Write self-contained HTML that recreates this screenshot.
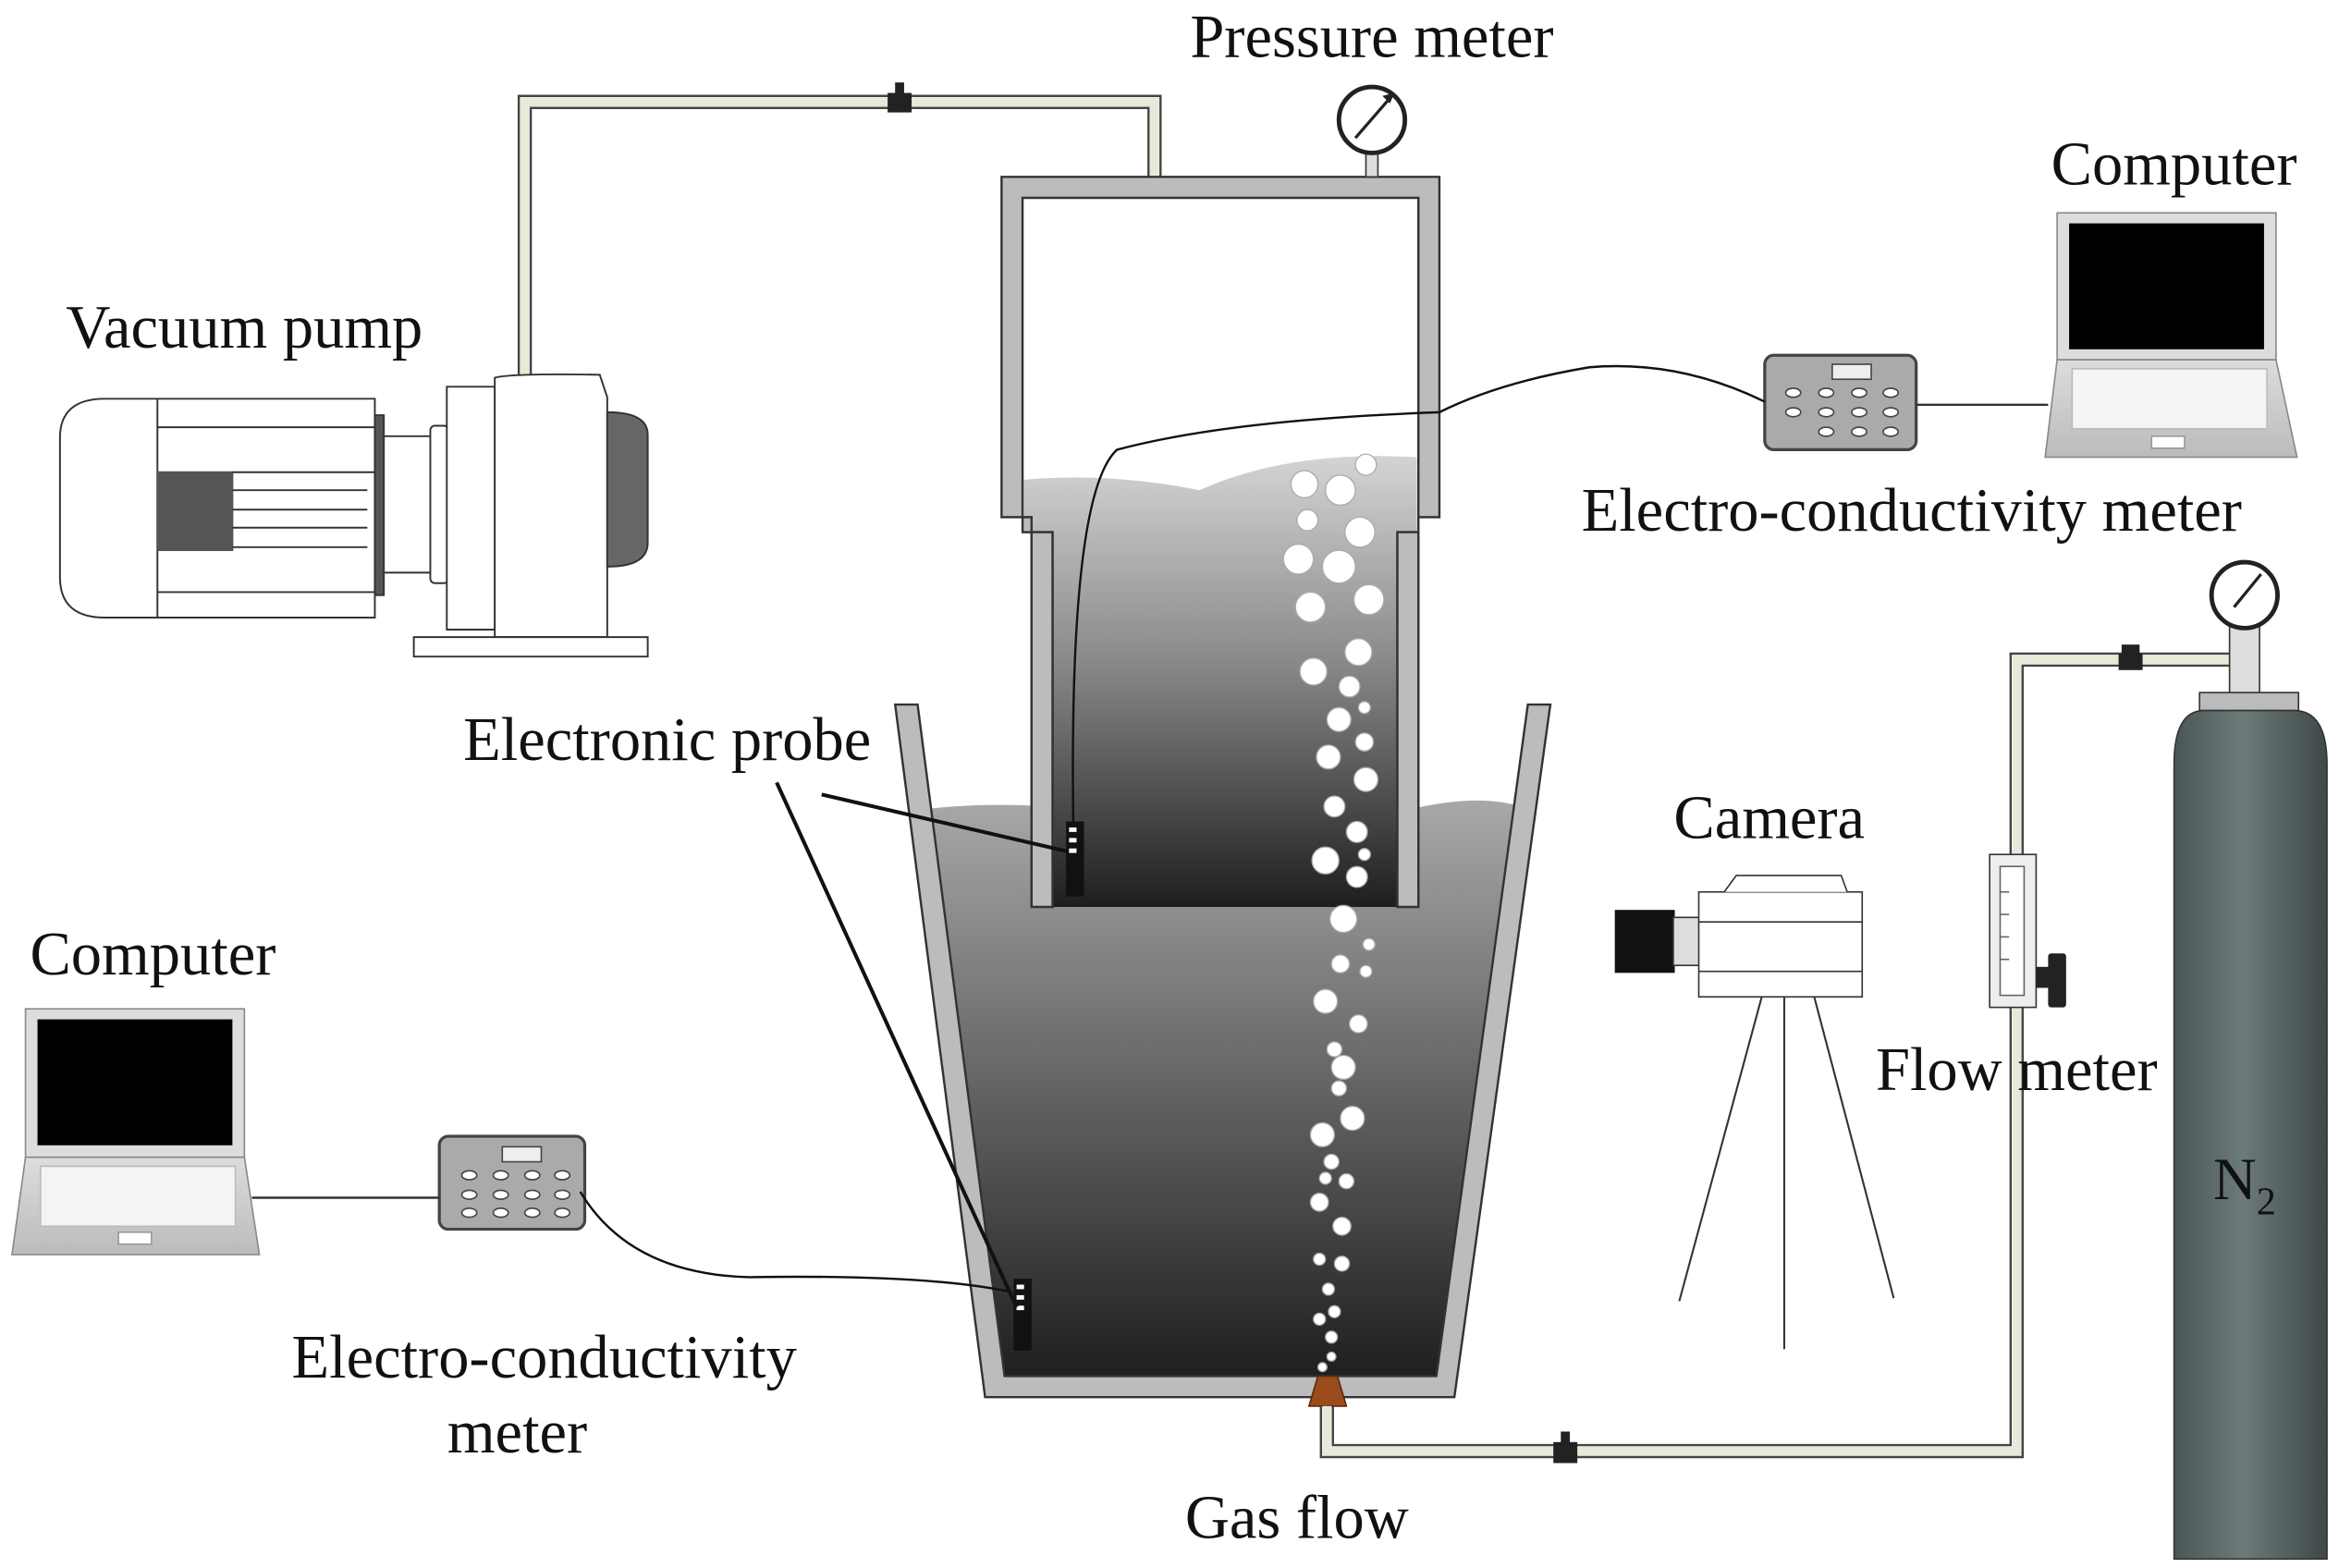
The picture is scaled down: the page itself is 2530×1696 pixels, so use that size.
<!DOCTYPE html>
<html><head><meta charset="utf-8"><style>
html,body{margin:0;padding:0;background:#fff}
svg{display:block}
text{font-family:"Liberation Serif",serif;fill:#111}
</style></head><body>
<svg width="2530" height="1696" viewBox="0 0 1560 1046" preserveAspectRatio="none" xmlns="http://www.w3.org/2000/svg">
<defs>
<linearGradient id="liq" x1="0" y1="0" x2="0" y2="1">
<stop offset="0" stop-color="#d4d4d4"/><stop offset="0.45" stop-color="#8a8a8a"/><stop offset="1" stop-color="#1e1e1e"/>
</linearGradient>
<linearGradient id="liq2" x1="0" y1="0" x2="0" y2="1">
<stop offset="0" stop-color="#a8a8a8"/><stop offset="1" stop-color="#1e1e1e"/>
</linearGradient>
<linearGradient id="cyl" x1="0" y1="0" x2="1" y2="0">
<stop offset="0" stop-color="#4a5656"/><stop offset="0.45" stop-color="#6d7a7a"/><stop offset="1" stop-color="#3e4848"/>
</linearGradient>
<linearGradient id="scr" x1="0" y1="0" x2="0" y2="1">
<stop offset="0" stop-color="#ddd"/><stop offset="1" stop-color="#bbb"/>
</linearGradient>
</defs>

<path d="M346 252 V64 H774 V118 M354 252 V72 H766 V118" fill="none" stroke="#444" stroke-width="1.5"/>
<path d="M350 252 V68 H770 V118" fill="none" stroke="#e9e9d9" stroke-width="6"/>
<rect x="592" y="62" width="16" height="13" fill="#222"/><rect x="597" y="55" width="6" height="8" fill="#222"/>

<g stroke="#333" stroke-width="1.2" fill="#fff">
<path d="M70 266 H250 V412 H70 Q40 412 40 385 V292 Q40 266 70 266 Z"/>
<line x1="105" y1="266" x2="105" y2="412"/>
<line x1="105" y1="285" x2="250" y2="285"/>
<line x1="105" y1="395" x2="250" y2="395"/>
<rect x="105" y="315" width="50" height="52" fill="#555" stroke="#555"/>
<line x1="155" y1="315" x2="250" y2="315"/><line x1="155" y1="327" x2="245" y2="327"/><line x1="155" y1="340" x2="245" y2="340"/><line x1="155" y1="352" x2="245" y2="352"/><line x1="155" y1="365" x2="245" y2="365"/>
<rect x="250" y="277" width="6" height="120" fill="#555"/>
<line x1="256" y1="291" x2="290" y2="291"/><line x1="256" y1="382" x2="290" y2="382"/>
<rect x="287" y="284" width="12" height="105" rx="3"/>
<path d="M298 258 H330 V420 H298 Z"/>
<path d="M330 252 Q340 249 400 250 L405 265 V425 H330 Z"/>
<path d="M405 275 Q432 275 432 290 V362 Q432 378 405 378 Z" fill="#666"/>
<path d="M276 425 H432 V438 H276 Z"/>
</g>

<path d="M615 540 Q680 532 760 545 Q860 555 940 540 Q990 528 1020 540 L970 920 H662 Z" fill="url(#liq2)"/>
<path d="M597 470 L612 470 L670 918 L958 918 L1019 470 L1034 470 L970 932 L657 932 Z" fill="#bcbcbc" stroke="#333" stroke-width="1.5"/>

<path d="M683 320 Q740 315 800 327 Q860 300 945 305 L945 355 L932 355 L932 605 L702 605 L702 355 L683 355 Z" fill="url(#liq)"/>
<path d="M668 118 H960 V345 H946 V605 H932 V355 H946 V132 H682 V355 H702 V605 H688 V345 H668 Z" fill="#bcbcbc" stroke="#333" stroke-width="1.5"/>
<rect x="688" y="355" width="14" height="250" fill="#bcbcbc" stroke="#333" stroke-width="1.5"/>
<rect x="932" y="355" width="14" height="250" fill="#bcbcbc" stroke="#333" stroke-width="1.5"/>

<rect x="911" y="100" width="8" height="18" fill="#ddd" stroke="#333"/>
<circle cx="915" cy="80" r="22" fill="#fff" stroke="#222" stroke-width="3"/>
<line x1="904" y1="92" x2="930" y2="62" stroke="#222" stroke-width="2"/>
<path d="M930 62 l-8 2 l5 5z" fill="#222"/>

<g fill="#fff" stroke="#aaa" stroke-width="0.8">
<circle cx="870" cy="323" r="9"/><circle cx="894" cy="327" r="10"/><circle cx="911" cy="310" r="7"/>
<circle cx="872" cy="347" r="7"/><circle cx="907" cy="355" r="10"/><circle cx="866" cy="373" r="10"/><circle cx="893" cy="378" r="11"/>
<circle cx="913" cy="400" r="10"/><circle cx="874" cy="405" r="10"/><circle cx="906" cy="435" r="9"/><circle cx="876" cy="448" r="9"/>
<circle cx="900" cy="458" r="7"/><circle cx="910" cy="472" r="4"/><circle cx="893" cy="480" r="8"/><circle cx="910" cy="495" r="6"/>
<circle cx="886" cy="505" r="8"/><circle cx="911" cy="520" r="8"/><circle cx="890" cy="538" r="7"/><circle cx="905" cy="555" r="7"/>
<circle cx="910" cy="570" r="4"/><circle cx="884" cy="574" r="9"/><circle cx="905" cy="585" r="7"/><circle cx="896" cy="613" r="9"/>
<circle cx="913" cy="630" r="4"/><circle cx="894" cy="643" r="6"/><circle cx="911" cy="648" r="4"/><circle cx="884" cy="668" r="8"/>
<circle cx="906" cy="683" r="6"/><circle cx="890" cy="700" r="5"/><circle cx="896" cy="712" r="8"/><circle cx="893" cy="726" r="5"/>
<circle cx="902" cy="746" r="8"/><circle cx="882" cy="757" r="8"/><circle cx="888" cy="775" r="5"/><circle cx="884" cy="786" r="4"/>
<circle cx="898" cy="788" r="5"/><circle cx="880" cy="802" r="6"/><circle cx="895" cy="818" r="6"/><circle cx="880" cy="840" r="4"/>
<circle cx="895" cy="843" r="5"/><circle cx="886" cy="860" r="4"/><circle cx="890" cy="875" r="4"/><circle cx="880" cy="880" r="4"/>
<circle cx="888" cy="892" r="4"/><circle cx="888" cy="905" r="3"/><circle cx="882" cy="912" r="3"/>
</g>

<path d="M879 918 H892 L898 938 H873 Z" fill="#9a4c1c" stroke="#5a2a0a"/>

<path d="M881 938 V972 H1349 V444 H1500 M889 938 V964 H1341 V436 H1500" fill="none" stroke="#444" stroke-width="1.5"/>
<path d="M885 938 V968 H1345 V440 H1500" fill="none" stroke="#e9e9d9" stroke-width="6"/>
<rect x="1036" y="962" width="16" height="14" fill="#222"/><rect x="1041" y="955" width="6" height="8" fill="#222"/>
<rect x="1413" y="436" width="16" height="11" fill="#222"/><rect x="1415" y="430" width="12" height="6" fill="#222"/>

<rect x="1487" y="418" width="20" height="48" fill="#ddd" stroke="#333"/>
<circle cx="1497" cy="397" r="22" fill="#fff" stroke="#222" stroke-width="3"/>
<line x1="1490" y1="405" x2="1508" y2="383" stroke="#222" stroke-width="2"/>
<rect x="1467" y="462" width="66" height="12" fill="#bbb" stroke="#333"/>
<path d="M1470 474 H1530 Q1552 474 1552 510 V1040 H1450 V510 Q1450 474 1470 474 Z" fill="url(#cyl)" stroke="#333"/>
<text x="1497" y="800" font-size="40" text-anchor="middle">N<tspan font-size="26" dy="10">2</tspan></text>

<rect x="1327" y="570" width="31" height="102" fill="#eee" stroke="#333"/>
<rect x="1334" y="578" width="16" height="86" fill="#fff" stroke="#666"/>
<g stroke="#666"><line x1="1334" y1="595" x2="1340" y2="595"/><line x1="1334" y1="610" x2="1340" y2="610"/><line x1="1334" y1="625" x2="1340" y2="625"/><line x1="1334" y1="640" x2="1340" y2="640"/></g>
<rect x="1358" y="645" width="10" height="14" fill="#222"/><rect x="1366" y="636" width="12" height="36" fill="#222" rx="2"/>

<rect x="1077" y="607" width="40" height="42" fill="#111"/>
<rect x="1116" y="612" width="18" height="32" fill="#ddd" stroke="#333"/>
<rect x="1133" y="595" width="109" height="70" fill="#fff" stroke="#333"/>
<path d="M1150 595 L1158 584 H1228 L1232 595" fill="#fff" stroke="#333"/>
<line x1="1133" y1="615" x2="1242" y2="615" stroke="#333"/><line x1="1133" y1="648" x2="1242" y2="648" stroke="#333"/>
<g stroke="#333" stroke-width="1.3"><line x1="1175" y1="665" x2="1120" y2="868"/><line x1="1190" y1="665" x2="1190" y2="900"/><line x1="1210" y1="665" x2="1263" y2="866"/></g>

<rect x="1372" y="142" width="146" height="98" fill="#ddd" stroke="#888"/>
<rect x="1380" y="149" width="130" height="84" fill="#000"/>
<path d="M1372 240 H1518 L1532 305 H1364 Z" fill="url(#scr)" stroke="#888"/>
<rect x="1382" y="246" width="130" height="40" fill="#f4f4f4" stroke="#bbb"/>
<rect x="1435" y="291" width="22" height="8" fill="#fff" stroke="#999"/>
<rect x="1177" y="237" width="101" height="63" rx="6" fill="#aaa" stroke="#444" stroke-width="2"/>
<rect x="1222" y="243" width="26" height="10" fill="#eee" stroke="#444"/>
<g fill="#fff" stroke="#444"><ellipse cx="1196" cy="262" rx="5" ry="3"/><ellipse cx="1218" cy="262" rx="5" ry="3"/><ellipse cx="1240" cy="262" rx="5" ry="3"/><ellipse cx="1261" cy="262" rx="5" ry="3"/>
<ellipse cx="1196" cy="275" rx="5" ry="3"/><ellipse cx="1218" cy="275" rx="5" ry="3"/><ellipse cx="1240" cy="275" rx="5" ry="3"/><ellipse cx="1261" cy="275" rx="5" ry="3"/>
<ellipse cx="1218" cy="288" rx="5" ry="3"/><ellipse cx="1240" cy="288" rx="5" ry="3"/><ellipse cx="1261" cy="288" rx="5" ry="3"/></g>
<line x1="1278" y1="270" x2="1366" y2="270" stroke="#333" stroke-width="1.5"/>

<rect x="17" y="673" width="146" height="99" fill="#ddd" stroke="#888"/>
<rect x="25" y="680" width="130" height="84" fill="#000"/>
<path d="M17 772 H163 L173 837 H8 Z" fill="url(#scr)" stroke="#888"/>
<rect x="27" y="778" width="130" height="40" fill="#f4f4f4" stroke="#bbb"/>
<rect x="79" y="822" width="22" height="8" fill="#fff" stroke="#999"/>
<rect x="293" y="758" width="97" height="62" rx="6" fill="#aaa" stroke="#444" stroke-width="2"/>
<rect x="335" y="765" width="26" height="10" fill="#eee" stroke="#444"/>
<g fill="#fff" stroke="#444"><ellipse cx="313" cy="784" rx="5" ry="3"/><ellipse cx="334" cy="784" rx="5" ry="3"/><ellipse cx="355" cy="784" rx="5" ry="3"/><ellipse cx="375" cy="784" rx="5" ry="3"/>
<ellipse cx="313" cy="797" rx="5" ry="3"/><ellipse cx="334" cy="797" rx="5" ry="3"/><ellipse cx="355" cy="797" rx="5" ry="3"/><ellipse cx="375" cy="797" rx="5" ry="3"/>
<ellipse cx="313" cy="809" rx="5" ry="3"/><ellipse cx="334" cy="809" rx="5" ry="3"/><ellipse cx="355" cy="809" rx="5" ry="3"/><ellipse cx="375" cy="809" rx="5" ry="3"/></g>
<line x1="168" y1="799" x2="293" y2="799" stroke="#333" stroke-width="1.5"/>

<path d="M1177 268 Q1120 240 1060 245 Q1000 255 960 275 Q820 280 745 300 Q712 330 716 560" fill="none" stroke="#111" stroke-width="1.5"/>
<path d="M387 795 Q420 850 500 852 Q620 850 675 862" fill="none" stroke="#111" stroke-width="1.5"/>
<rect x="711" y="548" width="12" height="50" fill="#111"/>
<g fill="#fff"><rect x="713" y="552" width="5" height="3"/><rect x="713" y="559" width="5" height="3"/><rect x="713" y="566" width="5" height="3"/></g>
<rect x="676" y="853" width="12" height="48" fill="#111"/>
<g fill="#fff"><rect x="678" y="857" width="5" height="3"/><rect x="678" y="864" width="5" height="3"/><rect x="678" y="871" width="5" height="3"/></g>
<line x1="548" y1="530" x2="712" y2="568" stroke="#111" stroke-width="2.5"/>
<line x1="518" y1="522" x2="678" y2="872" stroke="#111" stroke-width="2.5"/>

<g font-size="41">
<text x="915" y="38" text-anchor="middle">Pressure meter</text>
<text x="163" y="232" text-anchor="middle">Vacuum pump</text>
<text x="1450" y="123" text-anchor="middle">Computer</text>
<text x="1275" y="354" text-anchor="middle">Electro-conductivity meter</text>
<text x="445" y="507" text-anchor="middle">Electronic probe</text>
<text x="1180" y="559" text-anchor="middle">Camera</text>
<text x="1345" y="727" text-anchor="middle">Flow meter</text>
<text x="102" y="650" text-anchor="middle">Computer</text>
<text x="363" y="919" text-anchor="middle">Electro-conductivity</text>
<text x="345" y="969" text-anchor="middle">meter</text>
<text x="865" y="1026" text-anchor="middle">Gas flow</text>
</g>
</svg>
</body></html>
